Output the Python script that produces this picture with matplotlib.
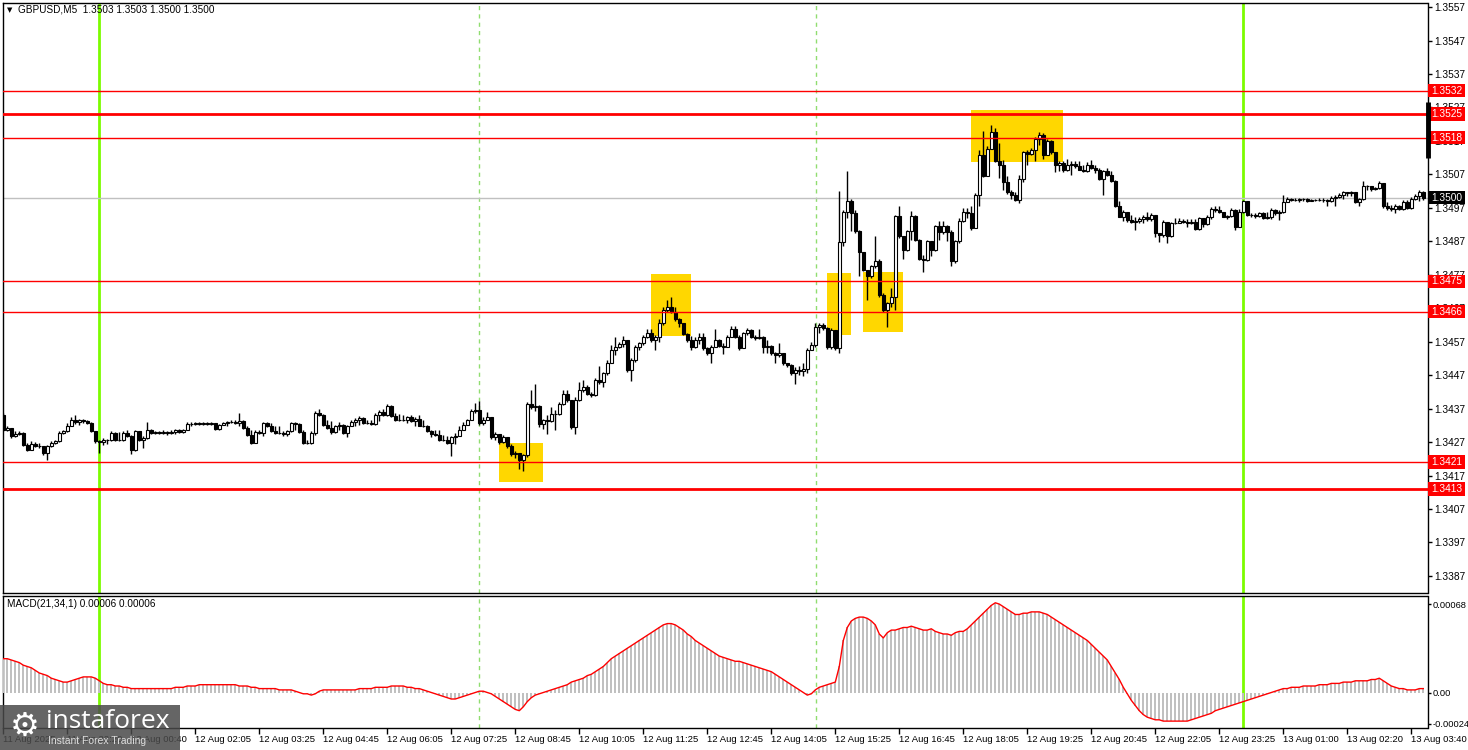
import matplotlib
matplotlib.use('Agg')
import numpy as np
import matplotlib.pyplot as plt
from matplotlib.patches import Rectangle
from matplotlib.transforms import blended_transform_factory

# GBPUSD M5 candles (one value per bar)
first_open = 1.34352
close = [
 1.34307, 1.34312, 1.34287, 1.34295, 1.34297, 1.34262, 1.34247, 1.34265, 1.34259, 1.34257,
 1.34237, 1.34257, 1.34267, 1.34272, 1.34297, 1.34302, 1.34319, 1.34337, 1.34329, 1.34335,
 1.34332, 1.34327, 1.34302, 1.34272, 1.34269, 1.34277, 1.34275, 1.34297, 1.34277, 1.34275,
 1.34297, 1.34287, 1.34247, 1.34302, 1.34277, 1.34282, 1.34307, 1.34297, 1.34299, 1.34297,
 1.34300, 1.34297, 1.34299, 1.34307, 1.34299, 1.34307, 1.34325, 1.34324, 1.34327, 1.34323,
 1.34327, 1.34325, 1.34327, 1.34309, 1.34322, 1.34327, 1.34329, 1.34331, 1.34327, 1.34332,
 1.34312, 1.34292, 1.34267, 1.34299, 1.34297, 1.34327, 1.34317, 1.34302, 1.34297, 1.34297,
 1.34295, 1.34302, 1.34327, 1.34325, 1.34299, 1.34267, 1.34267, 1.34297, 1.34357, 1.34352,
 1.34322, 1.34312, 1.34299, 1.34319, 1.34322, 1.34297, 1.34319, 1.34331, 1.34337, 1.34342,
 1.34327, 1.34327, 1.34325, 1.34352, 1.34359, 1.34352, 1.34379, 1.34349, 1.34335, 1.34337,
 1.34337, 1.34345, 1.34332, 1.34339, 1.34319, 1.34317, 1.34302, 1.34295, 1.34292, 1.34277,
 1.34277, 1.34267, 1.34285, 1.34289, 1.34307, 1.34322, 1.34335, 1.34362, 1.34367, 1.34327,
 1.34335, 1.34345, 1.34285, 1.34293, 1.34270, 1.34285, 1.34257, 1.34233, 1.34237, 1.34215,
 1.34230, 1.34385, 1.34375, 1.34377, 1.34325, 1.34335, 1.34333, 1.34355, 1.34355, 1.34385,
 1.34415, 1.34395, 1.34315, 1.34395, 1.34425, 1.34435, 1.34415, 1.34410, 1.34455, 1.34450,
 1.34475, 1.34505, 1.34545, 1.34555, 1.34563, 1.34575, 1.34485, 1.34515, 1.34555, 1.34565,
 1.34585, 1.34595, 1.34575, 1.34585, 1.34625, 1.34665, 1.34675, 1.34660, 1.34637, 1.34625,
 1.34593, 1.34575, 1.34553, 1.34575, 1.34585, 1.34550, 1.34535, 1.34555, 1.34575, 1.34557,
 1.34555, 1.34585, 1.34607, 1.34585, 1.34550, 1.34595, 1.34605, 1.34585, 1.34580, 1.34585,
 1.34555, 1.34557, 1.34535, 1.34530, 1.34535, 1.34505, 1.34500, 1.34475, 1.34485, 1.34483,
 1.34487, 1.34545, 1.34560, 1.34615, 1.34620, 1.34610, 1.34555, 1.34605, 1.34550, 1.34867,
 1.34957, 1.34990, 1.34955, 1.34900, 1.34837, 1.34785, 1.34765, 1.34795, 1.34810, 1.34710,
 1.34665, 1.34685, 1.34705, 1.34945, 1.34885, 1.34845, 1.34900, 1.34945, 1.34875, 1.34817,
 1.34815, 1.34870, 1.34845, 1.34915, 1.34897, 1.34915, 1.34897, 1.34810, 1.34870, 1.34930,
 1.34959, 1.34956, 1.34909, 1.35009, 1.35129, 1.35066, 1.35146, 1.35197, 1.35109, 1.35099,
 1.35046, 1.35016, 1.35009, 1.34994, 1.35056, 1.35136, 1.35132, 1.35144, 1.35176, 1.35189,
 1.35129, 1.35169, 1.35136, 1.35099, 1.35104, 1.35082, 1.35099, 1.35102, 1.35096, 1.35084,
 1.35079, 1.35099, 1.35089, 1.35084, 1.35056, 1.35079, 1.35069, 1.35049, 1.34974, 1.34944,
 1.34959, 1.34934, 1.34929, 1.34932, 1.34936, 1.34944, 1.34936, 1.34949, 1.34896, 1.34889,
 1.34929, 1.34886, 1.34924, 1.34926, 1.34932, 1.34928, 1.34926, 1.34929, 1.34906, 1.34939,
 1.34922, 1.34944, 1.34966, 1.34964, 1.34959, 1.34944, 1.34946, 1.34964, 1.34914, 1.34959,
 1.34989, 1.34949, 1.34949, 1.34946, 1.34954, 1.34939, 1.34942, 1.34964, 1.34954, 1.34958,
 1.34986, 1.34996, 1.34994, 1.34994, 1.34996, 1.34996, 1.34989, 1.34992, 1.34992, 1.34994,
 1.34992, 1.34989, 1.34999, 1.35002, 1.35009, 1.35016, 1.35014, 1.35016, 1.34986, 1.34996,
 1.35036, 1.35034, 1.35026, 1.35028, 1.35044, 1.34974, 1.34969, 1.34966, 1.34976, 1.34966,
 1.34986, 1.34969, 1.34996, 1.35006, 1.35016, 1.35000]
high = [
 1.34357, 1.34319, 1.34312, 1.34302, 1.34302, 1.34299, 1.34267, 1.34272, 1.34269, 1.34267,
 1.34259, 1.34262, 1.34272, 1.34277, 1.34302, 1.34307, 1.34327, 1.34345, 1.34352, 1.34339,
 1.34339, 1.34335, 1.34329, 1.34302, 1.34275, 1.34282, 1.34279, 1.34302, 1.34299, 1.34299,
 1.34302, 1.34305, 1.34292, 1.34307, 1.34292, 1.34287, 1.34329, 1.34309, 1.34302, 1.34302,
 1.34305, 1.34302, 1.34305, 1.34309, 1.34309, 1.34309, 1.34329, 1.34329, 1.34331, 1.34329,
 1.34331, 1.34330, 1.34331, 1.34327, 1.34325, 1.34331, 1.34333, 1.34335, 1.34337, 1.34357,
 1.34337, 1.34317, 1.34307, 1.34305, 1.34307, 1.34329, 1.34329, 1.34327, 1.34317, 1.34317,
 1.34302, 1.34307, 1.34329, 1.34329, 1.34327, 1.34307, 1.34277, 1.34302, 1.34362, 1.34369,
 1.34355, 1.34337, 1.34332, 1.34322, 1.34329, 1.34325, 1.34322, 1.34335, 1.34342, 1.34347,
 1.34345, 1.34337, 1.34335, 1.34357, 1.34365, 1.34369, 1.34383, 1.34381, 1.34357, 1.34353,
 1.34351, 1.34349, 1.34351, 1.34345, 1.34351, 1.34337, 1.34321, 1.34307, 1.34307, 1.34307,
 1.34292, 1.34289, 1.34289, 1.34297, 1.34317, 1.34329, 1.34339, 1.34369, 1.34387, 1.34392,
 1.34345, 1.34360, 1.34343, 1.34300, 1.34290, 1.34290, 1.34280, 1.34263, 1.34243, 1.34235,
 1.34235, 1.34390, 1.34425, 1.34445, 1.34380, 1.34340, 1.34350, 1.34375, 1.34365, 1.34390,
 1.34425, 1.34427, 1.34395, 1.34405, 1.34450, 1.34455, 1.34440, 1.34420, 1.34460, 1.34497,
 1.34480, 1.34515, 1.34560, 1.34585, 1.34570, 1.34587, 1.34575, 1.34520, 1.34560, 1.34570,
 1.34590, 1.34607, 1.34607, 1.34590, 1.34637, 1.34675, 1.34695, 1.34705, 1.34675, 1.34640,
 1.34625, 1.34595, 1.34587, 1.34585, 1.34597, 1.34597, 1.34555, 1.34560, 1.34607, 1.34577,
 1.34565, 1.34590, 1.34617, 1.34617, 1.34590, 1.34600, 1.34610, 1.34607, 1.34590, 1.34607,
 1.34587, 1.34575, 1.34560, 1.34540, 1.34565, 1.34530, 1.34507, 1.34503, 1.34495, 1.34497,
 1.34505, 1.34550, 1.34570, 1.34625, 1.34627, 1.34627, 1.34615, 1.34610, 1.34605, 1.35020,
 1.34965, 1.35080, 1.34997, 1.34965, 1.34903, 1.34830, 1.34785, 1.34800, 1.34885, 1.34817,
 1.34715, 1.34690, 1.34730, 1.34950, 1.34975, 1.34887, 1.34905, 1.34960, 1.34950, 1.34877,
 1.34830, 1.34875, 1.34865, 1.34920, 1.34930, 1.34930, 1.34920, 1.34903, 1.34875, 1.34940,
 1.34969, 1.34969, 1.34974, 1.35014, 1.35144, 1.35199, 1.35154, 1.35219, 1.35208, 1.35164,
 1.35114, 1.35066, 1.35024, 1.35016, 1.35069, 1.35139, 1.35144, 1.35149, 1.35182, 1.35197,
 1.35194, 1.35176, 1.35172, 1.35134, 1.35109, 1.35109, 1.35116, 1.35109, 1.35109, 1.35109,
 1.35099, 1.35106, 1.35114, 1.35099, 1.35089, 1.35084, 1.35089, 1.35079, 1.35054, 1.34989,
 1.34964, 1.34956, 1.34949, 1.34942, 1.34944, 1.34949, 1.34959, 1.34954, 1.34949, 1.34894,
 1.34934, 1.34929, 1.34929, 1.34939, 1.34939, 1.34938, 1.34938, 1.34938, 1.34936, 1.34944,
 1.34932, 1.34949, 1.34972, 1.34976, 1.34976, 1.34949, 1.34949, 1.34969, 1.34966, 1.34966,
 1.34994, 1.34976, 1.34956, 1.34954, 1.34959, 1.34959, 1.34959, 1.34969, 1.34968, 1.34964,
 1.35009, 1.35002, 1.34999, 1.34999, 1.35000, 1.35000, 1.34998, 1.34995, 1.34995, 1.34998,
 1.34998, 1.34996, 1.35004, 1.35009, 1.35014, 1.35019, 1.35018, 1.35020, 1.35014, 1.34999,
 1.35049, 1.35039, 1.35032, 1.35032, 1.35049, 1.35042, 1.34986, 1.34979, 1.34982, 1.34979,
 1.34992, 1.34992, 1.35002, 1.35012, 1.35022, 1.35019]
low = [
 1.34302, 1.34302, 1.34282, 1.34285, 1.34292, 1.34257, 1.34242, 1.34245, 1.34254, 1.34252,
 1.34232, 1.34217, 1.34255, 1.34265, 1.34269, 1.34295, 1.34299, 1.34317, 1.34325, 1.34322,
 1.34327, 1.34324, 1.34299, 1.34267, 1.34237, 1.34262, 1.34265, 1.34272, 1.34274, 1.34272,
 1.34272, 1.34284, 1.34235, 1.34242, 1.34274, 1.34252, 1.34279, 1.34294, 1.34294, 1.34294,
 1.34295, 1.34292, 1.34294, 1.34295, 1.34297, 1.34297, 1.34305, 1.34319, 1.34321, 1.34320,
 1.34320, 1.34322, 1.34322, 1.34307, 1.34307, 1.34321, 1.34319, 1.34327, 1.34324, 1.34319,
 1.34309, 1.34289, 1.34265, 1.34272, 1.34294, 1.34287, 1.34314, 1.34299, 1.34294, 1.34294,
 1.34287, 1.34289, 1.34299, 1.34305, 1.34297, 1.34265, 1.34265, 1.34265, 1.34292, 1.34349,
 1.34319, 1.34309, 1.34295, 1.34297, 1.34307, 1.34295, 1.34285, 1.34317, 1.34319, 1.34322,
 1.34324, 1.34323, 1.34322, 1.34322, 1.34332, 1.34349, 1.34349, 1.34345, 1.34332, 1.34333,
 1.34333, 1.34327, 1.34329, 1.34319, 1.34317, 1.34314, 1.34299, 1.34285, 1.34287, 1.34274,
 1.34273, 1.34264, 1.34227, 1.34265, 1.34289, 1.34305, 1.34327, 1.34337, 1.34357, 1.34322,
 1.34320, 1.34335, 1.34280, 1.34275, 1.34265, 1.34267, 1.34253, 1.34229, 1.34223, 1.34190,
 1.34183, 1.34225, 1.34370, 1.34363, 1.34315, 1.34310, 1.34295, 1.34330, 1.34305, 1.34350,
 1.34380, 1.34390, 1.34310, 1.34295, 1.34393, 1.34420, 1.34410, 1.34405, 1.34407, 1.34445,
 1.34435, 1.34470, 1.34505, 1.34530, 1.34550, 1.34555, 1.34480, 1.34453, 1.34510, 1.34545,
 1.34560, 1.34580, 1.34570, 1.34545, 1.34570, 1.34620, 1.34660, 1.34655, 1.34633, 1.34615,
 1.34589, 1.34570, 1.34545, 1.34550, 1.34563, 1.34545, 1.34530, 1.34505, 1.34553, 1.34553,
 1.34533, 1.34553, 1.34583, 1.34580, 1.34545, 1.34555, 1.34590, 1.34580, 1.34575, 1.34577,
 1.34535, 1.34535, 1.34530, 1.34505, 1.34525, 1.34500, 1.34495, 1.34470, 1.34445, 1.34470,
 1.34467, 1.34475, 1.34547, 1.34555, 1.34595, 1.34605, 1.34547, 1.34547, 1.34545, 1.34535,
 1.34855, 1.34940, 1.34900, 1.34895, 1.34765, 1.34780, 1.34695, 1.34760, 1.34790, 1.34705,
 1.34660, 1.34615, 1.34675, 1.34665, 1.34880, 1.34817, 1.34840, 1.34875, 1.34870, 1.34815,
 1.34777, 1.34810, 1.34825, 1.34840, 1.34875, 1.34893, 1.34870, 1.34795, 1.34805, 1.34865,
 1.34929, 1.34939, 1.34904, 1.34919, 1.34974, 1.35062, 1.35069, 1.35156, 1.35106, 1.35059,
 1.35024, 1.35012, 1.34996, 1.34989, 1.34984, 1.35046, 1.35099, 1.35129, 1.35109, 1.35159,
 1.35116, 1.35129, 1.35132, 1.35076, 1.35079, 1.35076, 1.35079, 1.35069, 1.35089, 1.35082,
 1.35076, 1.35076, 1.35086, 1.35074, 1.35052, 1.35009, 1.35066, 1.35046, 1.34972, 1.34942,
 1.34932, 1.34929, 1.34924, 1.34904, 1.34926, 1.34926, 1.34932, 1.34932, 1.34884, 1.34869,
 1.34884, 1.34866, 1.34884, 1.34922, 1.34924, 1.34924, 1.34914, 1.34922, 1.34904, 1.34904,
 1.34914, 1.34919, 1.34936, 1.34959, 1.34956, 1.34942, 1.34936, 1.34944, 1.34904, 1.34912,
 1.34956, 1.34946, 1.34942, 1.34939, 1.34944, 1.34936, 1.34936, 1.34936, 1.34949, 1.34934,
 1.34954, 1.34992, 1.34990, 1.34990, 1.34988, 1.34991, 1.34987, 1.34989, 1.34989, 1.34990,
 1.34986, 1.34974, 1.34988, 1.34976, 1.34998, 1.34996, 1.35004, 1.35006, 1.34984, 1.34974,
 1.34994, 1.35022, 1.35019, 1.35022, 1.35026, 1.34969, 1.34964, 1.34962, 1.34956, 1.34964,
 1.34964, 1.34966, 1.34966, 1.34994, 1.34989, 1.34992]

# MACD(21,34,1) main value per bar, in units of 0.00001
macd_pts = [
 26, 26, 25, 24, 23, 21, 20, 19, 17, 15, 14, 13, 11, 10, 9, 8, 8, 9, 10, 11,
 12, 12, 12, 11, 9, 7, 6, 6, 5, 5, 4, 4, 3, 3,
 3, 3, 3, 3, 3, 3, 3, 3, 3, 4, 4,
 4, 5, 5, 5, 6, 6, 6, 6,
 6, 6, 6, 6, 6, 6, 5, 5,
 5, 4, 4, 3, 3, 3,
 3, 3, 2, 2, 2, 2,
 1, 0, -1, -1,
 -2, -1, 1, 2,
 2, 2, 2, 2, 2, 2, 2, 2,
 3, 3, 3, 3, 4, 4, 4, 4,
 5, 5, 5, 5, 4, 4, 3, 3,
 2, 1, 0, -1, -2, -3, -4, -5,
 -5, -4, -3, -2, -1, 0, 1,
 1, 0, -1, -3, -5, -7,
 -9, -11, -13, -14, -11, -7,
 -4, -2, -1, 0, 1, 2, 3,
 4, 5, 6, 8, 9, 10, 11,
 13, 14, 16, 18, 20, 23, 26,
 28, 30, 32, 34, 36, 38, 40,
 42, 44, 46, 48, 50, 52, 53,
 53, 52, 50, 48, 45, 43,
 40, 38, 36, 34, 32, 30, 28,
 27, 26, 25, 24, 24, 23, 22,
 21, 20, 19, 18, 17, 16, 14,
 12, 10, 8, 6, 4, 2, 0,
 -2, -1, 2, 4, 5, 6, 7,
 8, 20, 40, 50, 55, 57, 58,
 58, 57, 55, 52, 45, 42, 46,
 48, 48, 49, 50, 50, 51, 50,
 49, 48, 48, 49, 47, 46, 45,
 45, 44, 46, 47, 47, 49, 52,
 55, 58, 61, 64, 67, 69, 68,
 66, 64, 62, 60, 60, 61, 61,
 62, 62, 62, 61, 60, 58, 56,
 54, 52, 50, 48, 46, 44, 42,
 40, 37, 34, 31, 28, 25, 20,
 15, 10, 4, -1, -6, -10, -14,
 -17, -19, -20, -21, -21, -22, -22,
 -22, -22, -22, -22, -22, -21, -20,
 -19, -18, -17, -16, -14, -13, -12,
 -11, -10, -9, -8, -7, -6, -5,
 -4, -3, -2, -1, 0, 1, 2,
 3, 3, 4, 4, 4, 5, 5,
 5, 5, 6, 6, 6, 7, 7,
 7, 8, 8, 8, 9, 9, 9,
 9, 10, 10, 11, 9, 7, 5,
 4, 3, 3, 2, 2, 2, 3, 3]

levels_thin = [1.3532, 1.3518, 1.3475, 1.3466, 1.3421]
levels_thick = [1.3525, 1.3413]
last_price = 1.3500
# highlighted zones: (first bar, last bar, low, high)
zones = [(123.9, 134.9, 1.34151, 1.34267),
         (161.9, 171.9, 1.34587, 1.34772),
         (205.9, 211.9, 1.34590, 1.34775),
         (214.9, 224.9, 1.34599, 1.34778),
         (241.9, 264.9, 1.35107, 1.35262)]
green_lines = [23.9, 309.9]
dash_lines = [118.9, 203.2]
price_ticks = [1.3557, 1.3547, 1.3537, 1.3527, 1.3517, 1.3507, 1.3497, 1.3487, 1.3477,
               1.3467, 1.3457, 1.3447, 1.3437, 1.3427, 1.3417, 1.3407, 1.3397, 1.3387]
time_labels = ['11 Aug 2025', '11 Aug 22:20', '12 Aug 00:40', '12 Aug 02:05', '12 Aug 03:25',
               '12 Aug 04:45', '12 Aug 06:05', '12 Aug 07:25', '12 Aug 08:45', '12 Aug 10:05',
               '12 Aug 11:25', '12 Aug 12:45', '12 Aug 14:05', '12 Aug 15:25', '12 Aug 16:45',
               '12 Aug 18:05', '12 Aug 19:25', '12 Aug 20:45', '12 Aug 22:05', '12 Aug 23:25',
               '13 Aug 01:00', '13 Aug 02:20', '13 Aug 03:40']
time_step = 16  # bars between time labels

plt.rcParams['font.family'] = ['Liberation Sans', 'DejaVu Sans']

close = np.array(close)
opn = np.concatenate([[first_open], close[:-1]])
high = np.maximum(np.array(high), np.maximum(opn, close))
low = np.minimum(np.array(low), np.minimum(opn, close))
idx = np.arange(len(close))
macd = np.array(macd_pts) * 1e-5

W, H = 1468, 750
fig = plt.figure(figsize=(W / 100, H / 100), dpi=100)
ax = fig.add_axes([2.7 / W, 1 - 593 / H, 1424.8 / W, 590.3 / H])
axm = fig.add_axes([2.7 / W, 1 - 728 / H, 1424.8 / W, 132.5 / H])

xlim = (-0.15, 356.05)
for a in (ax, axm):
    a.set_xlim(*xlim)
    for s in a.spines.values():
        s.set_linewidth(1)
        s.set_color('black')
    for g in green_lines:
        a.axvline(g, color='#7cfc00', lw=2, zorder=2)
    for d in dash_lines:
        a.axvline(d, color='#90dd70', lw=1, ls=(0, (3, 3)), zorder=2)

ax.set_ylim(1.33819, 1.35583)

for x0, x1, lo, hi in zones:
    ax.add_patch(Rectangle((x0, lo), x1 - x0, hi - lo, facecolor='#ffd700',
                           edgecolor='none', zorder=1))

ax.axhline(last_price, color='#c0c0c0', lw=1, zorder=2)

# candles
bull = close >= opn
ax.vlines(idx, low, high, color='black', lw=1, zorder=3)
ax.bar(idx, np.abs(close - opn), bottom=np.minimum(opn, close), width=0.75,
       color=np.where(bull, 'white', 'black'), edgecolor='black', lw=0.8, zorder=3.5)

for lv in levels_thin:
    ax.axhline(lv, color='#ff0000', lw=1, zorder=4)
for lv in levels_thick:
    ax.axhline(lv, color='#ff0000', lw=2, zorder=4)

ax.yaxis.tick_right()
ax.set_yticks(price_ticks)
ax.set_yticklabels([f'{p:.4f}' for p in price_ticks])
ax.tick_params(axis='y', direction='out', length=3, width=1, pad=2, labelsize=7.3)
ax.set_xticks([])

tr = blended_transform_factory(ax.transAxes, ax.transData)
box_h = 0.00040
for lv, fc in [(l, '#ff0000') for l in levels_thin + levels_thick] + [(last_price, 'black')]:
    ax.add_patch(Rectangle((1.0004, lv - box_h / 2), 0.026, box_h, transform=tr,
                           facecolor=fc, edgecolor='none', clip_on=False, zorder=6))
    ax.text(1.0025, lv, f'{lv:.4f}', transform=tr, color='white', fontsize=7.3,
            va='center', ha='left', zorder=7, clip_on=False)
ax.plot([1.0, 1.0], [1.35286, 1.35120], transform=tr, color='black', lw=3.5,
        solid_capstyle='butt', clip_on=False, zorder=6)

# MACD pane
axm.set_ylim(-0.000273, 0.000746)
axm.bar(idx, macd, width=0.45, color='#c0c0c0', zorder=3)
axm.plot(idx, macd, color='#ff0000', lw=1, zorder=4)
axm.yaxis.tick_right()
axm.set_yticks([0.00068, 0.0, -0.00024])
axm.set_yticklabels(['0.00068', '0.00', '-0.00024'])
axm.tick_params(axis='y', direction='out', length=2, width=1, pad=1.5, labelsize=6.7)
tick_pos = [k * time_step - 0.1 for k in range(len(time_labels))]
axm.set_xticks(tick_pos)
axm.set_xticklabels(time_labels, ha='left')
axm.tick_params(axis='x', direction='out', length=4, width=1, pad=1, labelsize=6.8)

fig.text(10 / W, 1 - 10 / H, '\u25bc', fontsize=5, va='center', ha='center',
         family='DejaVu Sans')
fig.text(18 / W, 1 - 10 / H, 'GBPUSD,M5  1.3503 1.3503 1.3500 1.3500', fontsize=7.2,
         va='center', ha='left')
fig.text(7 / W, 1 - 604 / H, 'MACD(21,34,1) 0.00006 0.00006', fontsize=7.2,
         va='center', ha='left')

# instaforex badge
fig.patches.append(Rectangle((0, 0), 180 / W, 45 / H, transform=fig.transFigure,
                             facecolor='#4a4a4a', alpha=0.85, edgecolor='none', zorder=10))
fig.text(25 / W, 1 - 726 / H, '\u2699', fontsize=24, color='white', va='center',
         ha='center', family='DejaVu Sans', zorder=11)
fig.text(46 / W, 1 - 722 / H, 'instaforex', fontsize=19, color='white', va='center',
         ha='left', family='Open Sans', zorder=11)
fig.text(48 / W, 1 - 741 / H, 'Instant Forex Trading', fontsize=7.5, color='#dddddd',
         va='center', ha='left', zorder=11)

fig.savefig('out.png', dpi=100, facecolor='white')
